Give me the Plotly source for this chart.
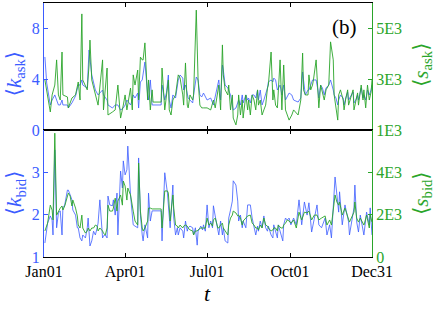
import plotly.graph_objects as go
from datetime import date, timedelta

# ---------------- data ----------------
top_days = [1,3,7,9,12,14,16,18,20,21,26,27,31,35,38,40,42,43,48,50,51,53,57,60,65,66,70,71,76,79,
            82,85,88,90,92,96,98,99,101,104,105,107,109,110,112,115,116,118,120,121,130,131,134,136,138,139,141,143,146,149,
            151,154,155,157,159,160,162,165,166,169,171,173,175,177,181,185,188,190,194,196,198,199,201,204,205,207,209,210,213,215,
            216,218,220,221,224,226,227,229,231,233,235,237,238,240,242,244,246,248,249,252,254,255,257,259,262,264,266,268,272,275,
            277,282,285,287,288,290,293,294,296,298,299,302,304,305,307,309,311,313,316,318,321,322,324,326,327,329,332,333,335,337,
            338,341,343,344,346,348,349,352,354,355,357,359,361,363,364]

k_ask = [5.75,3.70,1.97,2.36,2.76,2.36,1.97,1.97,2.36,1.97,1.97,1.73,2.13,2.68,3.54,3.54,3.94,3.54,3.31,6.30,
         5.51,4.33,3.15,2.76,3.15,2.76,2.36,1.97,1.73,1.97,1.97,1.57,1.73,1.97,2.36,1.97,2.36,2.76,2.52,2.91,
         1.73,3.78,3.94,4.33,5.35,2.76,2.36,3.94,1.97,1.97,1.97,3.54,2.36,2.99,4.33,2.36,1.73,2.76,2.52,3.94,
         4.33,4.09,3.15,3.54,2.76,2.52,2.36,2.13,2.76,4.17,3.94,2.76,2.60,2.91,2.36,2.52,1.97,2.60,3.94,2.36,
         5.12,4.72,3.54,3.31,3.15,2.76,1.97,1.57,1.73,2.13,2.36,1.97,2.76,2.13,2.76,2.36,2.52,2.13,2.76,2.76,
         2.52,3.15,2.36,3.15,1.97,2.36,2.76,3.31,3.78,3.94,3.78,4.09,3.94,3.15,3.54,2.76,3.54,2.36,2.91,2.76,
         2.36,2.20,2.52,4.57,3.94,2.76,3.15,3.15,3.54,3.94,3.94,3.94,3.15,2.52,3.54,3.31,2.76,3.31,3.54,3.94,
         3.15,2.76,2.52,1.97,2.36,2.76,2.52,1.97,2.52,2.99,2.36,2.76,2.99,2.13,2.36,2.76,2.36,3.31,2.52,2.76,
         2.36,3.15,2.76,3.15,3.54]

s_ask = [2970,2580,1710,2380,2770,3760,2380,2180,4070,2380,2300,1870,2260,2380,2890,2180,5570,2970,2580,3560,
         4540,2970,2380,1980,3760,1790,3440,1590,1710,1790,2770,1470,1980,2380,1790,2650,1790,3170,2770,3360,
         2180,3870,3760,3760,4430,2180,2970,1790,2580,2100,2100,3440,1790,2380,2970,1790,1590,2180,2380,3170,
         3050,2380,1980,3640,1980,1870,2380,2180,2380,5720,2970,1980,1870,1870,1870,1790,2180,1870,2770,1790,
         4350,3170,2580,2380,2770,1790,2380,1470,1200,1590,2380,1590,2180,1470,2380,1790,2180,1590,2380,2180,
         1790,2580,1980,2180,1590,1790,1980,2650,2770,4070,2180,2580,1980,1870,3760,1790,3560,1790,1390,1590,
         1790,1590,2180,4030,2580,2380,2380,3170,2580,2770,2970,3760,2180,1870,2770,2500,2180,2580,2770,4470,
         3760,2380,1790,1390,2380,2580,2180,1790,2260,2580,1980,2380,2580,1790,2180,2460,1980,2770,2180,2580,
         1870,2770,2180,2500,2970]

bot_days = [1,3,4,7,9,10,12,14,16,18,20,21,23,26,27,29,31,32,35,37,
            38,40,42,43,46,48,49,51,53,55,57,59,60,62,65,66,68,70,71,73,
            76,77,79,81,82,85,87,88,90,92,93,96,98,99,101,104,105,107,109,110,
            112,115,116,118,120,130,131,134,137,138,140,143,144,146,148,149,151,154,155,157,
            159,160,162,165,166,168,170,171,174,176,177,179,181,183,185,187,188,190,193,194,
            196,198,199,201,204,205,207,209,210,213,215,216,218,220,221,224,226,229,231,233,
            235,237,238,240,242,244,246,248,249,252,254,255,257,259,260,263,265,266,268,270,
            272,274,276,277,280,283,286,289,292,294,297,300,303,305,308,312,314,317,319,323,
            325,327,328,331,334,338,339,344,345,347,349,351,355,356,358,361,362,364]

k_bid = [1.33,1.61,1.80,1.97,1.87,1.52,3.53,1.69,2.04,2.09,1.52,2.16,2.23,2.58,2.58,2.47,2.35,2.11,1.99,1.69,
         1.69,1.45,1.38,1.52,1.45,1.69,1.92,1.26,1.38,1.61,1.52,1.69,1.80,2.35,1.45,1.50,1.52,1.45,2.44,2.23,
         2.21,2.35,1.99,2.51,1.52,3.03,2.63,3.27,2.94,3.06,3.62,2.47,1.85,1.76,1.73,1.69,3.34,1.99,1.52,1.38,
         1.76,1.45,2.51,1.85,2.09,2.09,1.38,2.99,2.51,2.16,1.69,2.70,1.92,1.52,1.69,1.52,1.69,1.61,1.45,1.85,
         1.61,1.69,1.73,1.69,1.52,1.69,1.28,1.61,1.73,1.64,1.76,1.61,2.23,1.69,1.85,1.69,2.21,1.97,1.69,1.52,
         1.85,1.52,1.69,1.38,1.33,1.92,2.11,2.32,2.80,2.70,2.32,1.85,1.99,1.69,1.85,1.69,2.23,2.23,1.92,1.69,
         1.52,1.73,1.61,1.85,1.69,1.97,1.69,1.61,1.73,1.52,1.45,1.76,1.61,1.45,1.76,1.52,1.38,1.76,1.92,1.87,
         1.92,1.76,1.85,1.92,1.76,2.35,1.76,2.30,1.99,2.28,1.59,1.92,2.23,1.76,1.69,1.92,1.52,1.76,1.45,2.89,
         2.47,2.06,2.54,1.76,2.23,1.83,1.52,2.16,2.70,1.83,1.59,1.99,1.52,1.76,2.06,1.76,2.16,1.52]

s_bid = [1230,1460,1600,2450,2220,1750,5850,1980,2170,2310,2410,2220,2410,2930,3020,2880,2410,2690,2310,1940,
         1510,1370,1980,1370,1130,1230,1370,1230,1370,1370,1510,1460,1230,1370,1230,1130,1040,1370,2450,2170,
         2170,2310,2780,2170,2640,2930,2450,3590,3350,2690,3260,2930,2310,2170,1700,1510,4440,2170,1370,1230,
         1370,1700,2310,2310,2270,2270,1370,3120,3120,3020,1700,2930,2310,1510,1460,1370,1510,1370,1460,1510,
         1460,1370,1280,1230,1040,1230,1230,1280,1370,1370,1370,1370,1840,1510,1600,1460,1750,1840,1370,1370,
         1510,1600,1370,1230,1040,1510,1840,1980,2170,2080,1940,1980,1840,1510,1700,1840,1940,1980,1600,1510,
         1370,1370,1280,1510,1370,1840,1510,1460,1370,1230,1280,1370,1370,1230,1510,1370,1370,1510,1600,1750,
         1700,1600,1700,1750,1370,2120,1750,2120,2080,2170,1750,1980,1980,1750,1840,1940,1510,1750,1510,2930,
         2600,2450,2600,1980,2310,1840,1650,2120,2600,1840,1650,1840,1510,1650,1980,1370,1980,1650]

tick_dates = ["2009-01-01", "2009-04-01", "2009-07-01", "2009-10-01", "2009-12-31"]
tick_labels = ["Jan01", "Apr01", "Jul01", "Oct01", "Dec31"]

# ---------------- figure ----------------
base = date(2009, 1, 1)
def to_dates(days):
    return [base + timedelta(days=d) for d in days]

n1 = min(len(top_days), len(k_ask), len(s_ask))
n2 = min(len(bot_days), len(k_bid), len(s_bid))

BLUE = "#3b5cff"
GREEN = "#2aa52a"
FONT = "Liberation Serif, DejaVu Serif, serif"

fig = go.Figure()
fig.add_trace(go.Scatter(x=to_dates(top_days[:n1]), y=k_ask[:n1], mode="lines",
                         line=dict(color=BLUE, width=0.8), xaxis="x", yaxis="y"))
fig.add_trace(go.Scatter(x=to_dates(top_days[:n1]), y=s_ask[:n1], mode="lines",
                         line=dict(color=GREEN, width=0.9), xaxis="x", yaxis="y2"))
fig.add_trace(go.Scatter(x=to_dates(bot_days[:n2]), y=k_bid[:n2], mode="lines",
                         line=dict(color=BLUE, width=0.8), xaxis="x2", yaxis="y3"))
fig.add_trace(go.Scatter(x=to_dates(bot_days[:n2]), y=s_bid[:n2], mode="lines",
                         line=dict(color=GREEN, width=0.9), xaxis="x2", yaxis="y4"))

xcommon = dict(range=[tick_dates[0], tick_dates[-1]], showline=True, linecolor="black",
               linewidth=1.2, mirror="ticks", ticks="inside", ticklen=4, tickcolor="black",
               showgrid=False, zeroline=False)
tickfont_k = dict(family=FONT, size=16, color=BLUE)
tickfont_s = dict(family=FONT, size=16, color=GREEN)
ycommon = dict(showline=True, linewidth=1.2, ticks="inside", ticklen=4, showgrid=False,
               zeroline=False)

def title_ann(text, x, y, color, angle=-90, size=21):
    return dict(text=text, xref="paper", yref="paper", x=x, y=y, showarrow=False,
                textangle=angle, xanchor="center", yanchor="middle",
                font=dict(family=FONT, size=size, color=color))

fig.update_layout(
    width=436, height=311,
    margin=dict(l=44, r=64, t=3, b=54),
    paper_bgcolor="white", plot_bgcolor="white",
    showlegend=False,
    font=dict(family=FONT, size=16, color="black"),
    xaxis=dict(**xcommon, domain=[0, 1], anchor="y", tickvals=tick_dates,
               showticklabels=False),
    xaxis2=dict(**xcommon, domain=[0, 1], anchor="y3", tickvals=tick_dates,
                ticktext=tick_labels, tickfont=dict(family=FONT, size=16, color="black")),
    yaxis=dict(**ycommon, domain=[0.5, 1], anchor="x", range=[0, 10], tickvals=[0, 4, 8],
               linecolor=BLUE, tickcolor=BLUE, tickfont=tickfont_k),
    yaxis2=dict(**ycommon, overlaying="y", side="right", anchor="x", range=[1000, 6000],
                tickvals=[1000, 3000, 5000], ticktext=["1E3", "3E3", "5E3"],
                linecolor=GREEN, tickcolor=GREEN, tickfont=tickfont_s),
    yaxis3=dict(**ycommon, domain=[0, 0.5], anchor="x2", range=[1, 4], tickvals=[1, 2, 3],
                linecolor=BLUE, tickcolor=BLUE, tickfont=tickfont_k),
    yaxis4=dict(**ycommon, overlaying="y3", side="right", anchor="x2", range=[0, 6000],
                tickvals=[0, 2000, 4000], ticktext=["0", "2E3", "4E3"],
                linecolor=GREEN, tickcolor=GREEN, tickfont=tickfont_s),
    annotations=[
        title_ann("(b)", 0.915, 0.906, "black", angle=0, size=21),
        title_ann("⟨<i>k</i><sub>ask</sub>⟩", -0.088, 0.72, BLUE),
        title_ann("⟨<i>k</i><sub>bid</sub>⟩", -0.088, 0.252, BLUE),
        title_ann("⟨<i>s</i><sub>ask</sub>⟩", 1.152, 0.756, GREEN),
        title_ann("⟨<i>s</i><sub>bid</sub>⟩", 1.152, 0.252, GREEN),
        title_ann("<i>t</i>", 0.497, -0.142, "black", angle=0, size=22),
    ],
)

fig.write_html("out.html", config={"displayModeBar": False},
               post_script="document.body.style.margin='0';document.body.style.padding='0';")
